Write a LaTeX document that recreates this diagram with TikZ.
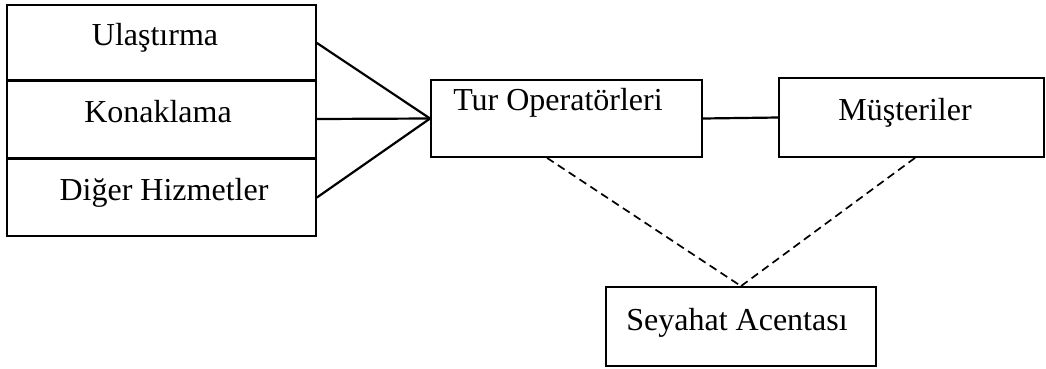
\documentclass[tikz,border=0pt]{standalone}
\usepackage{fontspec}
\setmainfont{Liberation Serif}
\usetikzlibrary{calc}
\begin{document}
\begin{tikzpicture}[x=1pt,y=-1pt,
  box/.style={draw,line width=1.8pt,inner sep=0pt,rectangle},
  lbl/.style={anchor=base,inner sep=0pt,font=\fontsize{32}{38}\selectfont},
  conn/.style={line width=2.2pt},
  dconn/.style={line width=1.7pt,dash pattern=on 8pt off 5pt}]
\useasboundingbox (0,0) rectangle (1046,368);
% left stack
\node[box,minimum width=309pt,minimum height=76pt] (ula) at (161.5,43) {};
\node[box,minimum width=309pt,minimum height=78pt] (kon) at (161.5,119) {};
\node[box,minimum width=309pt,minimum height=77pt] (dig) at (161.5,197.5) {};
\node[lbl] (ulat) at (155,45) {Ulaştırma};
\node[lbl] (kont) at (158,122) {Konaklama};
\node[lbl] (digt) at (164,200) {Diğer Hizmetler};
% tour operators
\node[box,minimum width=271pt,minimum height=77pt] (tur) at (566.5,118.5) {};
\node[lbl] (turt) at (558,110) {Tur Operatörleri};
% customers
\node[box,minimum width=265pt,minimum height=79pt] (mus) at (911.5,117.5) {};
\node[lbl] (must) at (905,120) {Müşteriler};
% travel agency
\node[box,minimum width=270pt,minimum height=79pt] (sey) at (741,326.5) {};
\node[lbl] (seyt) at (737,330) {Seyahat Acentası};
% connectors
\draw[conn] (ula.east) -- (tur.west);
\draw[conn] (kon.east) -- (tur.west);
\draw[conn] (dig.east) -- (tur.west);
\draw[conn] (tur.east) -- (mus.west);
\draw[dconn] ($(tur.south)+(-19.5,0)$) -- (sey.north);
\draw[dconn] ($(mus.south)+(3.5,0)$) -- (sey.north);
\end{tikzpicture}
\end{document}
